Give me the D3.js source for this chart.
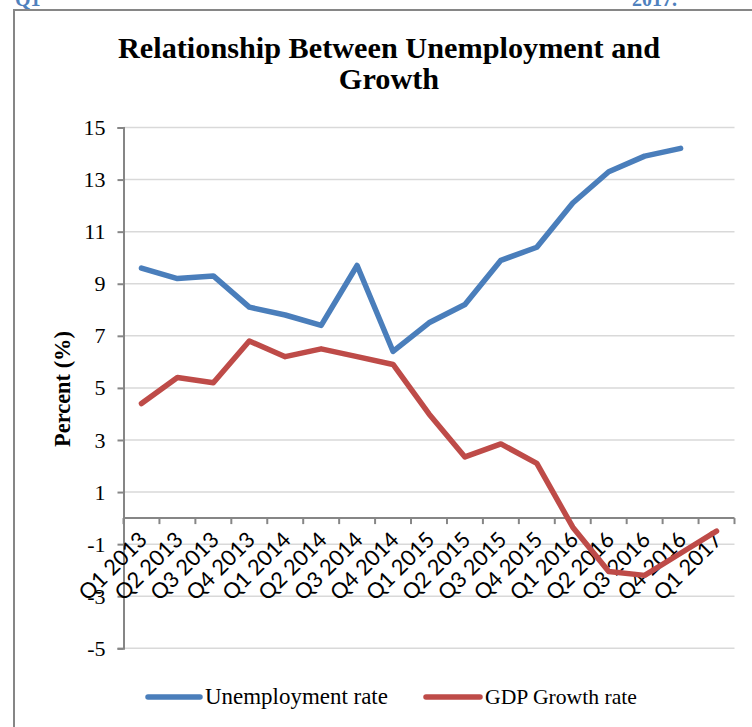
<!DOCTYPE html>
<html>
<head>
<meta charset="utf-8">
<script src="https://cdn.jsdelivr.net/npm/d3@7"></script>
<style>
  body { margin: 0; background: #fff; }
  svg { display: block; }
</style>
</head>
<body>
<svg id="chart" width="752" height="727"></svg>
<script>
// Quarterly series, Q1 2013 – Q1 2017 (percent)
const quarters = [
  "Q1 2013", "Q2 2013", "Q3 2013", "Q4 2013",
  "Q1 2014", "Q2 2014", "Q3 2014", "Q4 2014",
  "Q1 2015", "Q2 2015", "Q3 2015", "Q4 2015",
  "Q1 2016", "Q2 2016", "Q3 2016", "Q4 2016",
  "Q1 2017"
];
const unemploymentRate = [9.6, 9.2, 9.3, 8.1, 7.8, 7.4, 9.7, 6.4, 7.5, 8.2, 9.9, 10.4, 12.1, 13.3, 13.9, 14.2, null];
const gdpGrowthRate = [4.4, 5.4, 5.2, 6.8, 6.2, 6.5, 6.2, 5.9, 4.0, 2.35, 2.85, 2.1, -0.35, -2.05, -2.2, -1.35, -0.5];
const yTicks = [-5, -3, -1, 1, 3, 5, 7, 9, 11, 13, 15];

const seriesNames = ["Unemployment rate", "GDP Growth rate"];
const seriesColors = ["#4a7ebb", "#be4b48"];

const serif = "'Liberation Serif', 'DejaVu Serif', serif";
const sans = "Lato, 'Open Sans', sans-serif";
const axisGrey = "#868686";

const svg = d3.select("#chart");

// Scale a text element's font so its rendered width equals the target
function fitWidth(sel, target) {
  sel.each(function () {
    const size = parseFloat(this.getAttribute("font-size"));
    const w = this.getComputedTextLength();
    if (w > 0) this.setAttribute("font-size", (size * target / w).toFixed(2));
  });
  return sel;
}

// Header text from the surrounding page, clipped by the top edge
svg.append("text").attr("x", 15).attr("y", 6)
  .attr("font-family", serif).attr("font-weight", "bold").attr("font-size", 20)
  .attr("fill", "#4f81bd").text("Q1");
svg.append("text").attr("x", 632).attr("y", 6)
  .attr("font-family", serif).attr("font-weight", "bold").attr("font-size", 20)
  .attr("fill", "#4f81bd").text("2017.");

// Chart frame
svg.append("path")
  .attr("d", "M14,727V10H752")
  .attr("fill", "none").attr("stroke", axisGrey).attr("stroke-width", 2);

// Scales
const x = d3.scaleBand().domain(quarters).range([123.5, 734.5]).padding(0);
const y = d3.scaleLinear().domain([-5, 15]).range([648.3, 127.5]);
const cx = q => x(q) + x.bandwidth() / 2;

// Title
const title = svg.append("g")
  .attr("font-family", serif).attr("font-weight", "bold").attr("text-anchor", "middle").attr("fill", "#000");
const t1 = title.append("text").attr("x", 389).attr("y", 58).attr("font-size", 26)
  .text("Relationship Between Unemployment and");
fitWidth(t1, 542);
title.append("text").attr("x", 389).attr("y", 89).attr("font-size", t1.attr("font-size"))
  .text("Growth");

// Horizontal gridlines
svg.append("g")
  .selectAll("line")
  .data(yTicks)
  .join("line")
  .attr("x1", x.range()[0]).attr("x2", x.range()[1])
  .attr("y1", d => y(d)).attr("y2", d => y(d))
  .attr("stroke", "#d9d9d9").attr("stroke-width", 1.5);

// Value axis
const yAxisG = svg.append("g")
  .attr("transform", `translate(${x.range()[0]},0)`)
  .call(d3.axisLeft(y).tickValues(yTicks).tickSize(6).tickPadding(12).tickFormat(d => String(d)));
yAxisG.select(".domain").attr("stroke", axisGrey).attr("stroke-width", 2);
yAxisG.selectAll(".tick line").attr("stroke", axisGrey).attr("stroke-width", 2);
yAxisG.selectAll(".tick text")
  .attr("font-family", serif).attr("font-size", 22).attr("fill", "#000");

// Value-axis title
const yTitle = svg.append("text")
  .attr("transform", "translate(70,389) rotate(-90)")
  .attr("text-anchor", "middle")
  .attr("font-family", serif).attr("font-weight", "bold").attr("font-size", 20)
  .attr("fill", "#000")
  .text("Percent (%)");
fitWidth(yTitle, 116);

// Category axis crossing at zero
const y0 = y(0);
const catAxis = svg.append("g");
catAxis.append("line")
  .attr("x1", x.range()[0]).attr("x2", x.range()[1])
  .attr("y1", y0).attr("y2", y0)
  .attr("stroke", axisGrey).attr("stroke-width", 2);
const boundaries = quarters.map(q => x(q)).concat([x.range()[1]]);
catAxis.selectAll("line.tick")
  .data(boundaries)
  .join("line")
  .attr("class", "tick")
  .attr("x1", d => d).attr("x2", d => d)
  .attr("y1", y0).attr("y2", y0 + 6)
  .attr("stroke", axisGrey).attr("stroke-width", 2);

const catLabels = catAxis.selectAll("text")
  .data(quarters)
  .join("text")
  .attr("text-anchor", "end")
  .attr("font-family", sans).attr("font-size", 19).attr("fill", "#000")
  .text(d => d);
// size all category labels from the first one's measured length
const labelSize = (() => {
  const n = catLabels.node();
  return 19 * 86 / n.getComputedTextLength();
})();
catLabels
  .attr("font-size", labelSize.toFixed(2))
  .attr("transform", d => `translate(${cx(d) + 7},${y0 + 23}) rotate(-45)`);

// Series lines
const line = d3.line()
  .defined(d => d.v != null)
  .x(d => cx(d.q))
  .y(d => y(d.v));

[unemploymentRate, gdpGrowthRate].forEach((vals, i) => {
  svg.append("path")
    .datum(quarters.map((q, j) => ({ q, v: vals[j] })))
    .attr("d", line)
    .attr("fill", "none")
    .attr("stroke", seriesColors[i])
    .attr("stroke-width", 5.5)
    .attr("stroke-linejoin", "round")
    .attr("stroke-linecap", "round");
});

// Legend
const legendItems = [
  { x0: 148, x1: 200, tx: 205, w: 183 },
  { x0: 426, x1: 480, tx: 485, w: 152 }
];
const legend = svg.append("g");
legendItems.forEach((it, i) => {
  legend.append("line")
    .attr("x1", it.x0).attr("x2", it.x1)
    .attr("y1", 697).attr("y2", 697)
    .attr("stroke", seriesColors[i]).attr("stroke-width", 5.5)
    .attr("stroke-linecap", "round");
  const t = legend.append("text")
    .attr("x", it.tx).attr("y", 704)
    .attr("font-family", serif).attr("font-size", 20).attr("fill", "#000")
    .text(seriesNames[i]);
  fitWidth(t, it.w);
});
</script>
</body>
</html>
